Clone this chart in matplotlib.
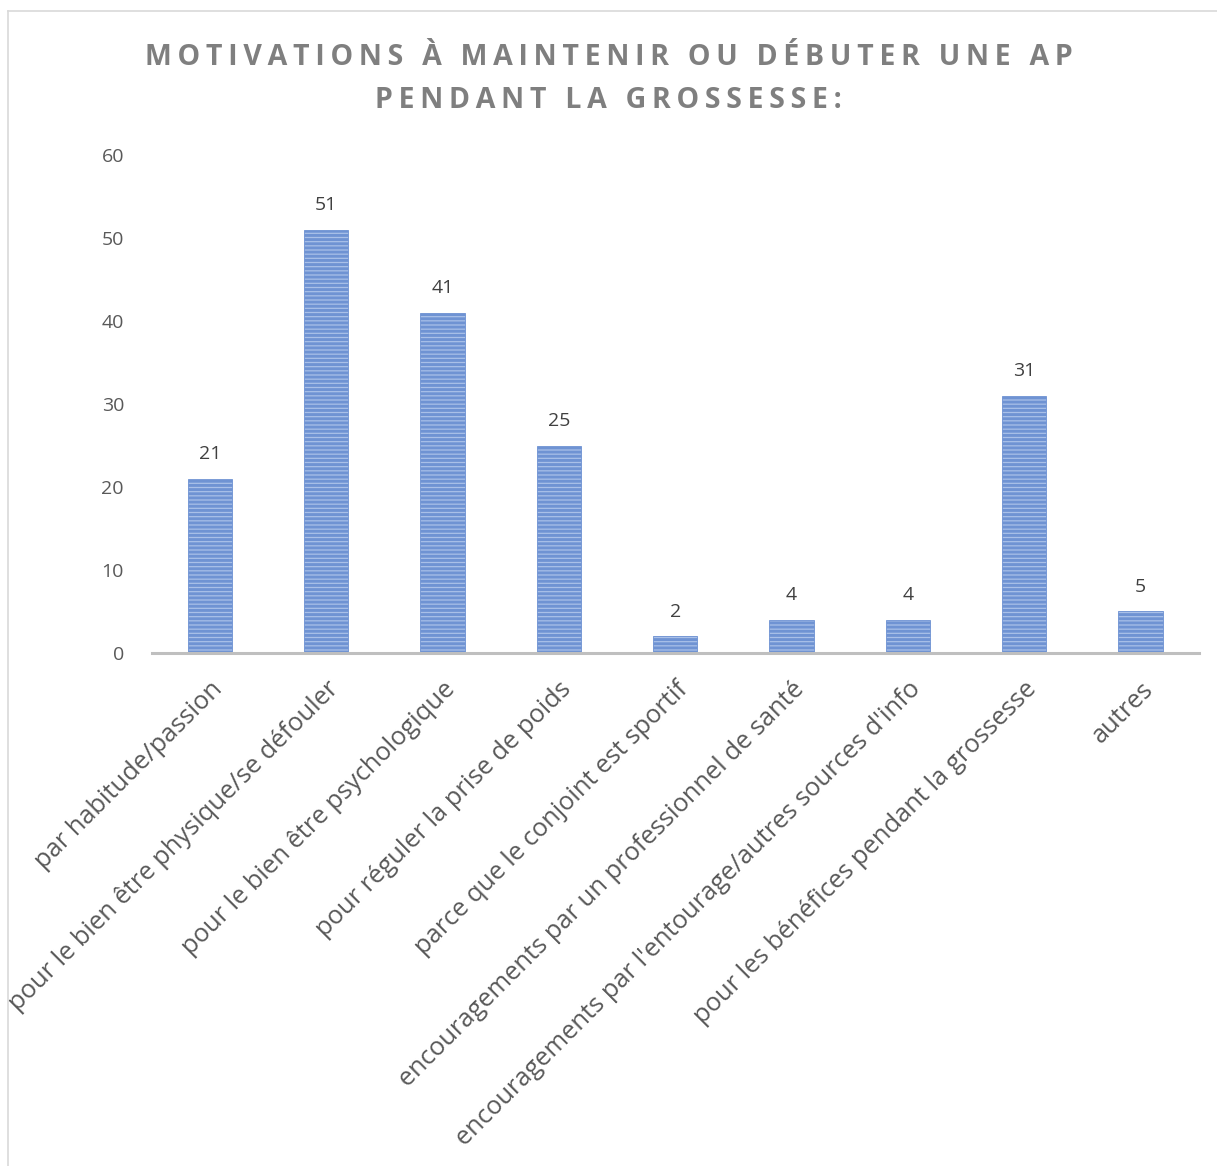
import matplotlib.pyplot as plt
from matplotlib.lines import Line2D

categories = [
    "par habitude/passion",
    "pour le bien être physique/se défouler",
    "pour le bien être psychologique",
    "pour réguler la prise de poids",
    "parce que le conjoint est sportif",
    "encouragements par un professionnel de santé",
    "encouragements par l'entourage/autres sources d'info",
    "pour les bénéfices pendant la grossesse",
    "autres",
]
values = [21, 51, 41, 25, 2, 4, 4, 31, 5]
yticks = [0, 10, 20, 30, 40, 50, 60]
title = "MOTIVATIONS À MAINTENIR OU DÉBUTER UNE AP\nPENDANT LA GROSSESSE:"

plt.rcParams["font.family"] = ["Open Sans", "DejaVu Sans"]
plt.rcParams["hatch.linewidth"] = 2.1
plt.rcParams["hatch.color"] = "#4472c4"

fig = plt.figure(figsize=(12.17, 11.66), dpi=100)
ax = fig.add_axes([0.1247, 0.44, 0.8603, 0.427])

x = range(len(categories))
bars = ax.bar(x, values, width=0.38, color="#a9c0e8", edgecolor="#6f93d3",
              linewidth=0.6, hatch="----")
for b, v in zip(bars, values):
    ax.text(b.get_x() + b.get_width() / 2, v + 1.9, str(v), ha="center",
            va="bottom", fontsize=14, color="#404040")

ax.set_xlim(-0.5, len(categories) - 0.5)
ax.set_ylim(0, 60)
ax.set_yticks(yticks)
ax.set_xticks(list(x))
ax.set_xticklabels(categories, rotation=45, ha="right", rotation_mode="anchor",
                   fontsize=18.4, color="#595959")
ax.tick_params(axis="y", length=0, labelsize=14, labelcolor="#595959", pad=20)
ax.tick_params(axis="x", length=0, pad=17)
for s in ["top", "right", "left"]:
    ax.spines[s].set_visible(False)
ax.spines["bottom"].set_color("#bfbfbf")
ax.spines["bottom"].set_linewidth(2.2)

# spaced-out title
spaced = "\n".join("\u2009".join(list(line)) for line in title.split("\n"))
fig.text(0.5, 0.963, spaced, ha="center", va="top", fontsize=20.5,
         fontweight="bold", color="#7f7f7f", linespacing=1.65)

# chart border
fig.add_artist(Line2D([8 / 1217, 8 / 1217], [0, 1 - 11 / 1166],
                      transform=fig.transFigure, color="#d9d9d9", lw=1.2))
fig.add_artist(Line2D([8 / 1217, 1], [1 - 11 / 1166, 1 - 11 / 1166],
                      transform=fig.transFigure, color="#d9d9d9", lw=1.2))

fig.savefig("out.png", dpi=100)
